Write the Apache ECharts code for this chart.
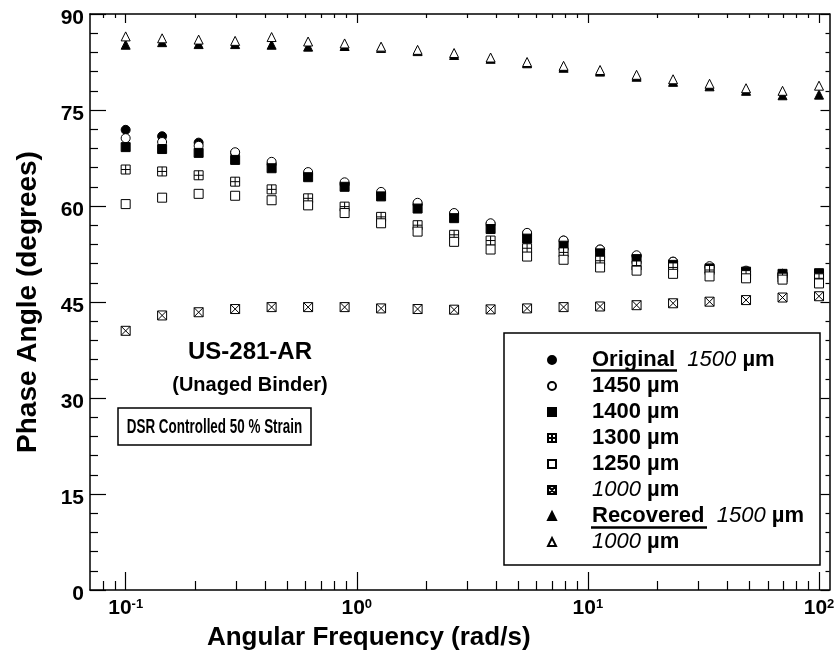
<!DOCTYPE html>
<html>
<head>
<meta charset="utf-8">
<script src="https://cdn.jsdelivr.net/npm/echarts@6/dist/echarts.min.js"></script>
<style>
  html, body { margin: 0; padding: 0; background: #fff; }
  #chart { width: 839px; height: 657px; }
</style>
</head>
<body>
<div id="chart"></div>
<script>
// Angular frequency sweep (rad/s)
const freq = [0.1, 0.1438, 0.2069, 0.2976, 0.4281, 0.6158, 0.8859, 1.274, 1.833, 2.637,
              3.793, 5.456, 7.848, 11.29, 16.24, 23.36, 33.60, 48.33, 69.52, 100];

// Phase angle (degrees) per gap setting — original binder
const orig1500 = [71.9, 70.9, 69.9, 68.3, 66.6, 65.0, 63.4, 61.9, 60.3, 58.8, 57.2, 55.7, 54.6, 53.2, 52.2, 51.3, 50.4, 49.8, 49.4, 49.4];
const orig1450 = [70.6, 70.0, 69.4, 68.4, 66.9, 65.3, 63.7, 62.2, 60.5, 58.9, 57.3, 55.8, 54.6, 53.2, 52.3, 51.3, 50.6, 49.9, 49.4, 49.4];
const orig1400 = [69.2, 68.9, 68.3, 67.2, 65.9, 64.5, 63.0, 61.5, 59.6, 58.1, 56.4, 54.9, 53.8, 52.6, 51.7, 50.8, 50.25, 49.75, 49.4, 49.5];
const orig1300 = [65.7, 65.4, 64.8, 63.8, 62.6, 61.2, 59.9, 58.3, 57.0, 55.5, 54.6, 53.4, 52.75, 51.45, 50.7, 50.4, 50.0, 49.2, 48.8, 48.7];
const orig1250 = [60.3, 61.3, 61.9, 61.6, 60.9, 60.1, 58.9, 57.3, 56.0, 54.4, 53.2, 52.1, 51.6, 50.4, 49.9, 49.4, 49.0, 48.7, 48.5, 47.9];
const orig1000 = [40.5, 42.9, 43.4, 43.9, 44.2, 44.2, 44.2, 44.0, 43.9, 43.8, 43.85, 44.0, 44.2, 44.3, 44.5, 44.8, 45.05, 45.3, 45.7, 45.9];
// Recovered binder
const rec1500 = [85.2, 85.6, 85.3, 85.3, 85.2, 84.9, 85.0, 84.7, 84.2, 83.6, 83.0, 82.3, 81.6, 81.0, 80.2, 79.4, 78.7, 78.0, 77.3, 77.4];
const rec1000 = [86.5, 86.2, 86.0, 85.8, 86.4, 85.7, 85.4, 84.9, 84.4, 83.9, 83.2, 82.5, 81.9, 81.25, 80.5, 79.8, 79.1, 78.4, 78.0, 78.8];

// Axis ticks
const xMajorTicks = [0.1, 1, 10, 100];
const xMinorTicks = [0.08, 0.09, 0.2, 0.3, 0.4, 0.5, 0.6, 0.7, 0.8, 0.9,
                     2, 3, 4, 5, 6, 7, 8, 9, 20, 30, 40, 50, 60, 70, 80, 90];
const yTicks = [0, 15, 30, 45, 60, 75, 90];

const FONT = '"Liberation Sans", Arial, Helvetica, sans-serif';
const BLACK = '#000';

const SYM_PLUS_BOX = 'path://M0,0H10V10H0Z M5,0V10 M0,5H10';
const SYM_CROSS_BOX = 'path://M0,0H10V10H0Z M0,0L10,10 M10,0L0,10';

function pairs(vals) { return freq.map((f, i) => [f, vals[i]]); }

const seriesDefs = [
  { name: 'o1500', data: orig1500, symbol: 'circle', size: 9, fill: BLACK },
  { name: 'o1450', data: orig1450, symbol: 'circle', size: 9, fill: '#fff' },
  { name: 'o1400', data: orig1400, symbol: 'rect', size: 9, fill: BLACK },
  { name: 'o1300', data: orig1300, symbol: SYM_PLUS_BOX, size: 9, fill: '#fff' },
  { name: 'o1250', data: orig1250, symbol: 'rect', size: 9, fill: '#fff' },
  { name: 'o1000', data: orig1000, symbol: SYM_CROSS_BOX, size: 9, fill: '#fff' },
  { name: 'r1500', data: rec1500, symbol: 'triangle', size: 9, fill: BLACK },
  { name: 'r1000', data: rec1000, symbol: 'triangle', size: 9, fill: '#fff' }
];

const legendLabels = {
  o1500: '{sp| }{b|Original}{i|  1500}{b| µm}',
  o1450: '{sp| }{b|1450 µm}',
  o1400: '{sp| }{b|1400 µm}',
  o1300: '{sp| }{b|1300 µm}',
  o1250: '{sp| }{b|1250 µm}',
  o1000: '{sp| }{i|1000}{b| µm}',
  r1500: '{sp| }{b|Recovered}{i|  1500}{b| µm}',
  r1000: '{sp| }{i|1000}{b| µm}'
};

const xAxisBase = {
  type: 'log', min: 0.0701, max: 111, gridIndex: 0,
  splitLine: { show: false }, minorTick: { show: false }
};

function xAxisLayer(position, ticks, len, showLine, labels) {
  return Object.assign({}, xAxisBase, {
    position: position,
    axisLine: { show: showLine, onZero: false, lineStyle: { color: BLACK, width: 1.5 } },
    axisTick: { show: true, inside: true, length: len, customValues: ticks,
                lineStyle: { color: BLACK, width: 1.2 } },
    axisLabel: labels ? {
      show: true, customValues: xMajorTicks, margin: 8,
      formatter: v => '{b|10}{s|' + Math.round(Math.log10(v)) + '}',
      rich: {
        b: { fontFamily: FONT, fontWeight: 'bold', fontSize: 21, color: BLACK },
        s: { fontFamily: FONT, fontWeight: 'bold', fontSize: 13, color: BLACK, verticalAlign: 'top' }
      }
    } : { show: false }
  });
}

const xAxes = [
  Object.assign(xAxisLayer('bottom', xMajorTicks, 18, true, true), {
    name: 'Angular Frequency (rad/s)', nameLocation: 'middle', nameGap: 35,
    nameTextStyle: { fontFamily: FONT, fontWeight: 'bold', fontSize: 26, color: BLACK,
                     padding: [0, 182, 0, 0] }
  }),
  xAxisLayer('bottom', xMinorTicks, 9, false, false),
  xAxisLayer('top', xMajorTicks, 9, true, false),
  xAxisLayer('top', xMinorTicks, 4, false, false)
];

function yAxisLayer(position, major, minor, labels) {
  return {
    type: 'value', min: 0, max: 90, interval: 15, position: position, gridIndex: 0,
    splitLine: { show: false },
    axisLine: { show: true, onZero: false, lineStyle: { color: BLACK, width: 1.5 } },
    axisTick: { show: true, inside: true, length: major, lineStyle: { color: BLACK, width: 1.2 } },
    minorTick: { show: true, splitNumber: 5, length: minor, lineStyle: { color: BLACK, width: 1.2 } },
    axisLabel: labels ? {
      show: true, margin: 6, customValues: yTicks,
      formatter: v => '{v|' + v + '}',
      rich: {
        v: { fontFamily: FONT, fontWeight: 'bold', fontSize: 21, color: BLACK, padding: [8, 0, 0, 0] }
      }
    } : { show: false }
  };
}

const yAxes = [
  Object.assign(yAxisLayer('left', 16, 8, true), {
    name: 'Phase Angle (degrees)', nameLocation: 'middle', nameGap: 48, nameRotate: 90,
    nameTextStyle: { fontFamily: FONT, fontWeight: 'bold', fontSize: 28, color: BLACK }
  }),
  yAxisLayer('right', 9, 4, false)
];

const option = {
  animation: false,
  backgroundColor: '#fff',
  grid: { left: 90, right: 9.5, top: 14, bottom: 67, containLabel: false },
  xAxis: xAxes,
  yAxis: yAxes,
  legend: {
    orient: 'vertical', left: 547, top: 349, padding: 0,
    itemWidth: 8, itemHeight: 8, itemGap: 4,
    data: seriesDefs.map(s => s.name),
    formatter: name => legendLabels[name],
    textStyle: {
      color: BLACK,
      rich: {
        sp: { width: 31, fontSize: 22, lineHeight: 22 },
        b: { fontFamily: FONT, fontWeight: 'bold', fontSize: 22, lineHeight: 22, color: BLACK },
        i: { fontFamily: FONT, fontStyle: 'italic', fontSize: 22, lineHeight: 22, color: BLACK }
      }
    }
  },
  graphic: [
    { type: 'rect', shape: { x: 504, y: 333, width: 316, height: 232 },
      style: { fill: 'none', stroke: BLACK, lineWidth: 1.5 }, z: 1 },
    { type: 'line', shape: { x1: 591, y1: 370.5, x2: 677, y2: 370.5 },
      style: { stroke: BLACK, lineWidth: 2.5 } },
    { type: 'line', shape: { x1: 591, y1: 527.5, x2: 707, y2: 527.5 },
      style: { stroke: BLACK, lineWidth: 2.5 } },
    { type: 'text', x: 250, y: 352,
      style: { text: 'US-281-AR', font: 'bold 24px ' + FONT, fill: BLACK, align: 'center', verticalAlign: 'middle' } },
    { type: 'text', x: 250, y: 385,
      style: { text: '(Unaged Binder)', font: 'bold 20px ' + FONT, fill: BLACK, align: 'center', verticalAlign: 'middle' } },
    { type: 'rect', shape: { x: 118, y: 408, width: 193, height: 37 },
      style: { fill: '#fff', stroke: BLACK, lineWidth: 1.5 } },
    { type: 'text', x: 214.5, y: 427, scaleX: 0.64,
      style: { text: 'DSR Controlled 50 % Strain', font: 'bold 21px ' + FONT,
               fill: BLACK, align: 'center', verticalAlign: 'middle' } }
  ],
  series: seriesDefs.map(s => ({
    name: s.name,
    type: 'scatter',
    xAxisIndex: 0,
    yAxisIndex: 0,
    data: pairs(s.data),
    symbol: s.symbol,
    symbolSize: s.size,
    itemStyle: { color: s.fill, borderColor: BLACK, borderWidth: 1, opacity: 1 },
    emphasis: { disabled: true }
  }))
};

const chart = echarts.init(document.getElementById('chart'), null, { renderer: 'canvas' });
chart.setOption(option);
</script>
</body>
</html>
